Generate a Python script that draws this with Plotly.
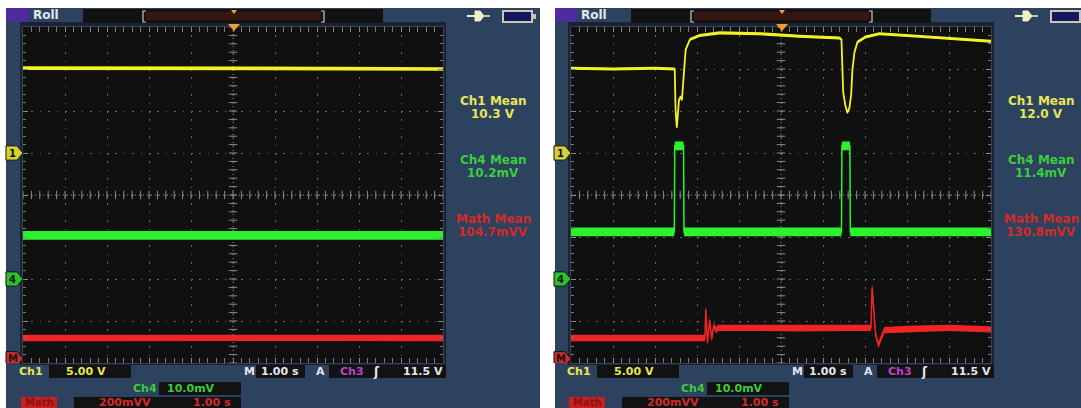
import plotly.graph_objects as go

W, H = 1081, 408

# ---------------- data ----------------
# time axis: roll mode, 1.00 s/div, 10 divisions
TIME_RANGE = [0, 10]
CH1_RANGE = [-25, 15]      # V   (5.00 V/div, ground marker at div 5)
CH4_RANGE = [-20, 60]      # mV  (10.0 mV/div, ground marker at div 2)
MATH_RANGE = [-20, 1580]   # mV  (200 mV/div, ground marker at div 0.1)

# Left capture (steady state)
L_ch1_t = [0, 2.5, 5, 7.5, 10]
L_ch1_v = [10.1, 10.1, 10.05, 10.05, 10.0]
L_ch4_t = [0, 2.5, 5, 7.5, 10]
L_ch4_v = [10.4, 10.4, 10.4, 10.4, 10.4]
L_math_t = [0, 2.5, 5, 7.5, 10]
L_math_v = [99, 100, 99, 100, 99]

# Right capture (two switching events)
R_ch1_t = [0, 1.0, 2.0, 2.45, 2.47, 2.49, 2.52, 2.57, 2.61, 2.64, 2.68, 2.73, 2.83,
           3.06, 3.54, 4.49, 5.44, 6.39, 6.44, 6.46, 6.48, 6.53, 6.58, 6.63, 6.67,
           6.70, 6.75, 6.82, 7.01, 7.34, 8.29, 9.24, 10]
R_ch1_v = [10.1, 10.0, 10.1, 10.0, 10.0, 5.1, 3.0, 6.3, 6.7, 6.3, 9.6, 12.3, 13.5,
           14.0, 14.3, 14.2, 13.9, 13.7, 13.5, 9.9, 7.3, 5.7, 4.8, 5.4, 6.9,
           9.9, 12.0, 13.2, 13.8, 14.2, 13.9, 13.6, 13.3]
R_ch4_t = [0, 2.46, 2.47, 2.68, 2.69, 6.44, 6.45, 6.64, 6.65, 10]
R_ch4_v = [11.2, 11.2, 31.7, 31.7, 11.2, 11.2, 31.7, 31.7, 11.2, 11.2]
R_math_t = [0, 1.5, 3.0, 3.19, 3.21, 3.25, 3.30, 3.35, 3.40, 3.45, 3.50, 4.5, 5.5,
            6.5, 7.14, 7.17, 7.25, 7.32, 7.46, 8.0, 9.0, 10]
R_math_v = [99, 98, 98, 99, 237, 75, 185, 95, 160, 135, 147, 147, 145,
            147, 147, 342, 120, 66, 137, 142, 147, 140]

MEAS = {
    "L": ["10.3 V", "10.2mV", "104.7mVV"],
    "R": ["12.0 V", "11.4mV", "130.8mVV"],
}
SETTINGS = {"ch1": "5.00 V", "ch4": "10.0mV", "time": "1.00 s",
            "trig_src": "Ch3", "trig_lvl": "11.5 V", "math": "200mVV"}

# ---------------- style ----------------
PANEL = "#2d425f"
YEL = "#f2f226"
GRN = "#2cf22c"
RED = "#f02424"
YEL_T = "#e6e65a"
GRN_T = "#3ccc3c"
RED_T = "#d42a2a"
MAG_T = "#c040d0"
WHITE_T = "#e4e6ee"
FONT = "DejaVu Sans"


def PX(x):
    return x / W


def PY(y):
    return 1 - y / H


fig = go.Figure()
shapes = []
ann = []


def rect(x0, y0, x1, y1, fill, line=None, lw=0, layer="below"):
    shapes.append(dict(type="rect", xref="paper", yref="paper",
                       x0=PX(x0), x1=PX(x1), y0=PY(y1), y1=PY(y0),
                       fillcolor=fill, line=dict(color=line or fill, width=lw),
                       layer=layer))


def path(pts, fill=None, line="rgba(0,0,0,0)", lw=1, layer="above", close=True):
    d = "M " + " L ".join(f"{PX(x):.5f},{PY(y):.5f}" for x, y in pts)
    if close:
        d += " Z"
    shapes.append(dict(type="path", xref="paper", yref="paper", path=d,
                       fillcolor=fill or "rgba(0,0,0,0)", line=dict(color=line, width=lw),
                       layer=layer))


def txt(x, y, s, color, size=11, bold=True, xanchor="center"):
    ann.append(dict(x=PX(x), y=PY(y), xref="paper", yref="paper",
                    text=f"<b>{s}</b>" if bold else s, showarrow=False,
                    xanchor=xanchor, yanchor="middle",
                    font=dict(family=FONT, size=size, color=color)))


def band(t, v, hw):
    xs = list(t) + list(t)[::-1]
    ys = [a + hw for a in v] + [a - hw for a in v][::-1]
    return xs, ys


panels = [
    dict(key="L", ox=0, px0=6, px1=540, xa="x", ya="y", y4="y3", ym="y4",
         data=[(L_ch1_t, L_ch1_v, "y", YEL, 0.22, 1.8),
               (L_ch4_t, L_ch4_v, "y3", GRN, 1.05, 1.5),
               (L_math_t, L_math_v, "y4", RED, 15, 1.5)]),
    dict(key="R", ox=548, px0=555, px1=1081, xa="x2", ya="y2", y4="y5", ym="y6",
         data=[(R_ch1_t, R_ch1_v, "y2", YEL, 0.18, 1.8),
               (R_ch4_t, R_ch4_v, "y5", GRN, 1.05, 1.5),
               (R_math_t, R_math_v, "y6", RED, 15, 1.5)]),
]

axis_common = dict(showticklabels=False, zeroline=False, fixedrange=True)

for i, p in enumerate(panels):
    ox = p["ox"]
    xa, ya = p["xa"], p["ya"]
    # panel background
    rect(p["px0"], 8, p["px1"], 408, PANEL)
    rect(ox + 20, 22, ox + 446, 365, "#1b2232")
    rect(ox + 23, 26, ox + 443, 363, "#101010")
    # header
    rect(ox + 6 if i == 0 else 555, 8, ox + 29, 22, "#4e2ca0")
    txt(ox + 46, 15.5, "Roll", WHITE_T, size=12)
    rect(ox + 83, 9, ox + 383, 23, "#121212")
    rect(ox + 146, 12, ox + 321, 20, "#3a1612")
    path([(ox + 146, 11), (ox + 143, 11), (ox + 143, 22), (ox + 146, 22)],
         line="#c8c8c8", lw=1.2, close=False)
    path([(ox + 321, 11), (ox + 324, 11), (ox + 324, 22), (ox + 321, 22)],
         line="#c8c8c8", lw=1.2, close=False)
    path([(ox + 231, 10), (ox + 237, 10), (ox + 234, 14)], fill="#f0a030")
    # plug icon
    path([(ox + 467, 16), (ox + 475, 16)], line="#f0f0c8", lw=2, close=False)
    path([(ox + 475, 11), (ox + 480, 11), (ox + 484, 16), (ox + 480, 21), (ox + 475, 21)],
         fill="#f0f0c8", line="#f0f0c8")
    path([(ox + 484, 16), (ox + 490, 16)], line="#f0f0c8", lw=1.5, close=False)
    # battery
    rect(ox + 503, 11, ox + 532, 22, "#16165e", line="#c8c8b0", lw=2, layer="above")
    rect(ox + 532, 14, ox + 536, 19, "#c8c8b0", layer="above")

    # axes
    x0p, x1p = 23 + ox, 443 + ox
    dom_x = [PX(x0p), PX(x1p)]
    dom_y = [PY(363), PY(27)]
    xname = "xaxis" if i == 0 else "xaxis2"
    yname = "yaxis" if i == 0 else "yaxis2"
    fig.layout[xname] = dict(domain=dom_x, range=TIME_RANGE, anchor=ya,
                             dtick=1, showgrid=True, gridcolor="#6a6a6a", gridwidth=1,
                             griddash="1.5px,6.9px", ticks="inside", ticklen=5,
                             tickcolor="#8a8a8a", mirror="allticks", showline=True,
                             linecolor="#3a4256", linewidth=1,
                             minor=dict(dtick=0.2, ticks="inside", ticklen=3,
                                        tickcolor="#7a7a7a", showgrid=False),
                             **axis_common)
    fig.layout[yname] = dict(domain=dom_y, range=CH1_RANGE, anchor=xa,
                             dtick=5, showgrid=True, gridcolor="#6a6a6a", gridwidth=1,
                             griddash="1.5px,6.9px", ticks="inside", ticklen=5,
                             tickcolor="#8a8a8a", mirror="allticks", showline=True,
                             linecolor="#3a4256", linewidth=1,
                             minor=dict(dtick=1, ticks="inside", ticklen=3,
                                        tickcolor="#7a7a7a", showgrid=False),
                             **axis_common)
    y4name = "yaxis" + p["y4"][1:]
    ymname = "yaxis" + p["ym"][1:]
    fig.layout[y4name] = dict(overlaying=ya, range=CH4_RANGE, anchor=xa, visible=False,
                              **axis_common)
    fig.layout[ymname] = dict(overlaying=ya, range=MATH_RANGE, anchor=xa, visible=False,
                              **axis_common)

    # centre crosshair
    shapes.append(dict(type="line", xref=xa, yref=ya + " domain", x0=5, x1=5, y0=0, y1=1,
                       line=dict(color="#8c8c8c", width=1, dash="1px,3px"), layer="below"))
    shapes.append(dict(type="line", xref=xa + " domain", yref=ya, x0=0, x1=1, y0=-5, y1=-5,
                       line=dict(color="#8c8c8c", width=1, dash="1px,3px"), layer="below"))
    fig.add_trace(go.Scatter(x=[k * 0.2 for k in range(51)], y=[-5] * 51, xaxis=xa, yaxis=ya,
                             mode="markers", hoverinfo="skip",
                             marker=dict(symbol="line-ns", size=6,
                                         line=dict(color="#8c8c8c", width=1))))
    fig.add_trace(go.Scatter(x=[5] * 41, y=[-25 + k for k in range(41)], xaxis=xa, yaxis=ya,
                             mode="markers", hoverinfo="skip",
                             marker=dict(symbol="line-ew", size=6,
                                         line=dict(color="#8c8c8c", width=1))))

    # waveforms
    for t, v, yax, col, hw, lw in p["data"][::-1]:
        bx, by = band(t, v, hw)
        fig.add_trace(go.Scatter(x=bx, y=by, xaxis=xa, yaxis=yax, mode="lines",
                                 fill="toself", fillcolor=col, line=dict(width=0, color=col),
                                 hoverinfo="skip"))
        fig.add_trace(go.Scatter(x=t, y=v, xaxis=xa, yaxis=yax, mode="lines",
                                 line=dict(color=col, width=lw), hoverinfo="skip"))

    # trigger position marker on top of graticule
    path([(ox + 228, 24), (ox + 240, 24), (ox + 234, 31)], fill="#f0a030")

    # ground reference tags
    for lab, yax, half, fillc in [("1", ya, 0.85, "#d2d236"), ("4", p["y4"], 1.7, "#2cc02c"),
                                  ("M", p["ym"], 34, "#d82a2a")]:
        x_a, x_b, x_c = PX(ox + 6), PX(ox + 17), PX(ox + 23)
        d = (f"M {x_a:.5f},{-half} L {x_b:.5f},{-half} L {x_c:.5f},0 "
             f"L {x_b:.5f},{half} L {x_a:.5f},{half} Z")
        shapes.append(dict(type="path", xref="paper", yref=yax, path=d, fillcolor=fillc,
                           line=dict(color="#101010", width=1), layer="above"))
        ann.append(dict(x=PX(ox + 12.5), y=0, xref="paper", yref=yax, text=f"<b>{lab}</b>",
                        showarrow=False, xanchor="center", yanchor="middle",
                        font=dict(family=FONT, size=10, color="#141414")))

    # measurements
    mx = ox + 493
    m = MEAS[p["key"]]
    txt(mx, 101, "Ch1 Mean", YEL_T, size=12)
    txt(mx, 114, m[0], YEL_T, size=12)
    txt(mx, 160, "Ch4 Mean", GRN_T, size=12)
    txt(mx, 173, m[1], GRN_T, size=12)
    txt(mx, 219, "Math Mean", RED_T, size=12)
    txt(mx, 232, m[2], RED_T, size=12)

    # bottom settings readout
    txt(ox + 31, 371, "Ch1", YEL_T, size=11)
    rect(ox + 49, 365, ox + 131, 378, "#121212", layer="above")
    txt(ox + 86, 371.5, SETTINGS["ch1"], YEL_T, size=11)
    txt(ox + 249, 371, "M", WHITE_T, size=11)
    rect(ox + 256, 365, ox + 305, 378, "#121212", layer="above")
    txt(ox + 280, 371.5, SETTINGS["time"], WHITE_T, size=11)
    txt(ox + 320, 371, "A", WHITE_T, size=11)
    rect(ox + 329, 365, ox + 446, 378, "#121212", layer="above")
    txt(ox + 352, 371.5, SETTINGS["trig_src"], MAG_T, size=11)
    txt(ox + 376, 371.5, "ʃ", WHITE_T, size=12)
    txt(ox + 445, 371.5, SETTINGS["trig_lvl"], WHITE_T, size=11, xanchor="right")
    txt(ox + 145, 388, "Ch4", GRN_T, size=11)
    rect(ox + 159, 382, ox + 241, 395, "#121212", layer="above")
    txt(ox + 191, 388.5, SETTINGS["ch4"], GRN_T, size=11)
    rect(ox + 21, 397, ox + 57, 408, "#c82020", layer="above")
    txt(ox + 39, 402.5, "Math", "#8c1010", size=10)
    rect(ox + 74, 397, ox + 241, 408, "#121212", layer="above")
    txt(ox + 125, 402.5, SETTINGS["math"], RED_T, size=11)
    txt(ox + 212, 402.5, SETTINGS["time"], RED_T, size=11)

fig.update_layout(width=W, height=H, margin=dict(l=0, r=0, t=0, b=0),
                  paper_bgcolor="white", plot_bgcolor="#101010", showlegend=False,
                  shapes=shapes, annotations=ann)

fig.write_html("out.html", config={"displayModeBar": False, "staticPlot": True},
               post_script="document.body.style.margin='0px';document.body.style.overflow='hidden';")
